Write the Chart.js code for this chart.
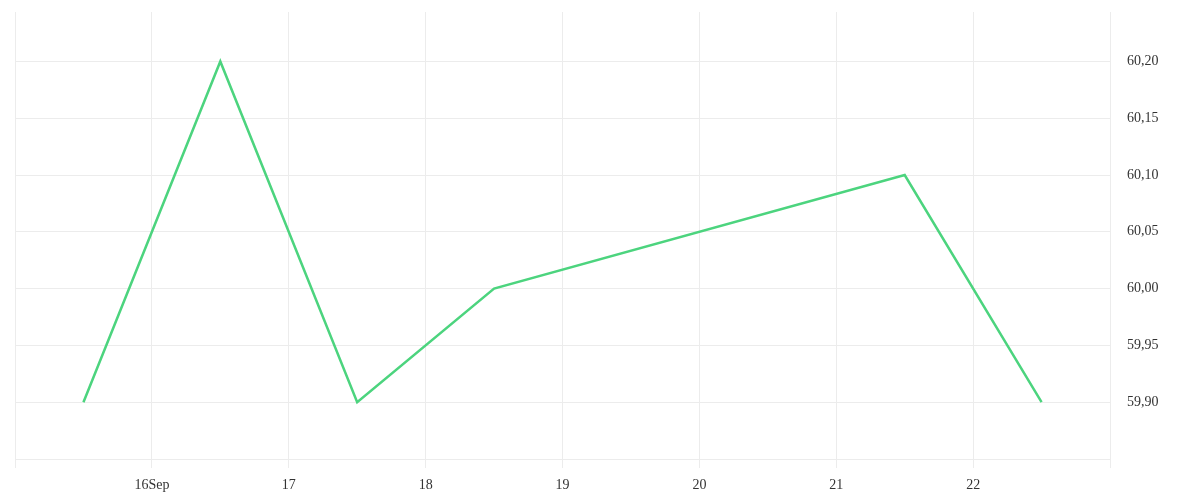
<!DOCTYPE html>
<html>
<head>
<meta charset="utf-8">
<script src="https://cdn.jsdelivr.net/npm/chart.js@4"></script>
<style>
  html, body { margin: 0; padding: 0; background: #fff; }
  #wrap { width: 1200px; height: 500px; }
</style>
</head>
<body>
<div id="wrap"><canvas id="priceChart"></canvas></div>
<script>
// days in September, points sit at midday
const dayPositions = [15.5, 16.5, 17.5, 18.5, 21.5, 22.5];
const prices = [59.90, 60.20, 59.90, 60.00, 60.10, 59.90];
const dayTicks = [15, 16, 17, 18, 19, 20, 21, 22, 23];
const dayLabels = ['', '16Sep', '17', '18', '19', '20', '21', '22', ''];
const priceTicks = [59.85, 59.90, 59.95, 60.00, 60.05, 60.10, 60.15, 60.20];

const gridColor = '#ececec';
const fontSpec = { family: 'Liberation Serif', size: 14 };

const ctx = document.getElementById('priceChart').getContext('2d');
new Chart(ctx, {
    type: 'line',
    data: {
        datasets: [{
            label: 'Price',
            data: dayPositions.map((d, i) => ({ x: d, y: prices[i] })),
            borderColor: '#4cd47e',
            borderWidth: 2.5,
            pointRadius: 0,
            tension: 0,
            fill: false
        }]
    },
    options: {
        responsive: true,
        maintainAspectRatio: false,
        animation: false,
        layout: { padding: { left: 15, top: 12, right: 0, bottom: 0 } },
        plugins: { legend: { display: false }, tooltip: { enabled: false } },
        scales: {
            x: {
                type: 'linear',
                min: 15, max: 23,
                afterBuildTicks: s => { s.ticks = dayTicks.map(v => ({ value: v })); },
                afterFit: s => { s.height = 41; },
                grid: { color: gridColor, tickLength: 9, drawTicks: true },
                border: { display: false },
                ticks: {
                    color: '#333',
                    font: fontSpec,
                    padding: 9,
                    maxRotation: 0,
                    autoSkip: false,
                    callback: v => dayLabels[dayTicks.indexOf(v)] ?? ''
                }
            },
            y: {
                position: 'right',
                min: 59.85, max: 60.2435,
                afterBuildTicks: s => { s.ticks = priceTicks.map(v => ({ value: v })); },
                afterFit: s => { s.width = 90; s.paddingTop = 0; },
                grid: { color: gridColor, drawTicks: false },
                border: { display: true, color: gridColor },
                ticks: {
                    color: '#333',
                    font: fontSpec,
                    padding: 17,
                    callback: v => v <= 59.86 ? '' : v.toFixed(2).replace('.', ',')
                }
            }
        }
    }
});
</script>
</body>
</html>
